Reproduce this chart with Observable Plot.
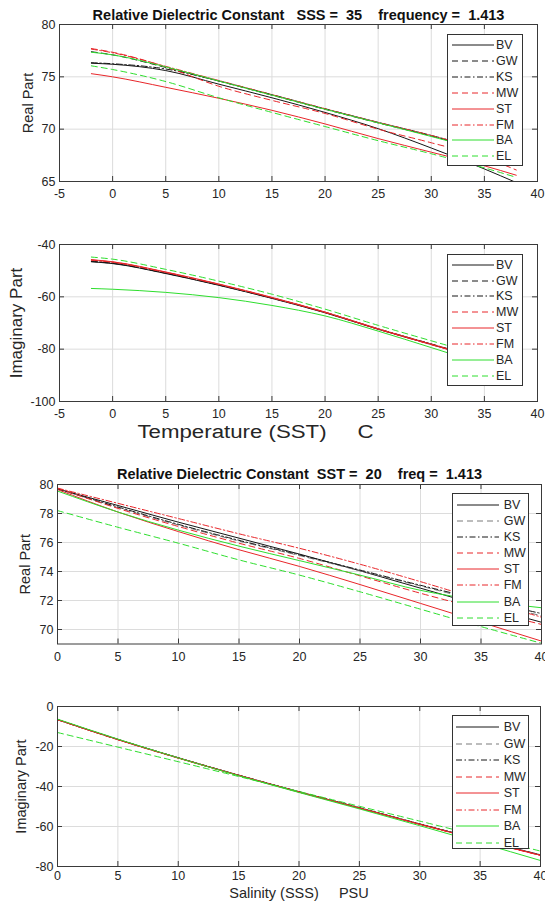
<!DOCTYPE html>
<html>
<head>
<meta charset="utf-8">
<script src="https://cdn.jsdelivr.net/npm/d3@7"></script>
<script src="https://cdn.jsdelivr.net/npm/@observablehq/plot@0.6"></script>
<style>
  body { margin: 0; background: #fff; }
  #fig { position: relative; width: 545px; height: 910px; background: #fff; overflow: hidden;
         font-family: "Liberation Sans", Arial, Helvetica, sans-serif; color: #262626; }
  #fig svg { position: absolute; left: 0; overflow: visible; }
  #fig svg text { white-space: pre; }
  .legend { position: absolute; background: #fff; border: 1px solid #333; box-sizing: border-box; }
  .legend svg { position: absolute; overflow: visible; }
  .legend span { position: absolute; font-size: 12.5px; line-height: 14px; color: #262626; white-space: pre; }
</style>
</head>
<body>
<div id="fig"></div>
<script>
// ---------------- DATA ----------------
const models = ["BV", "GW", "KS", "MW", "ST", "FM", "BA", "EL"];

// Panel 1 & 2: vs temperature (SSS = 35, frequency = 1.413)
const sst = [-2, 0, 5, 10, 15, 20, 25, 30, 35, 38];
const realT_BV = [76.3, 76.2, 75.6, 74.3, 73.0, 71.6, 70.05, 68.2, 66.2, 64.9];
const realT_GW = [77.4, 77.1, 75.9, 74.6, 73.25, 71.9, 70.6, 69.35, 67.9, 66.9];
const realT_KS = [76.35, 76.25, 75.75, 74.6, 73.3, 71.95, 70.65, 69.4, 68.0, 67.0];
const realT_MW = [77.7, 77.35, 75.95, 74.1, 72.75, 71.5, 70.0, 68.7, 67.3, 66.1];
const realT_ST = [75.3, 75.0, 74.0, 72.95, 71.8, 70.5, 69.1, 67.8, 66.5, 65.6];
const realT_FM = [77.65, 77.3, 76.0, 74.65, 73.3, 71.95, 70.65, 69.4, 68.0, 67.1];
const realT_BA = [77.35, 77.1, 75.95, 74.6, 73.25, 71.9, 70.6, 69.3, 67.9, 66.9];
const realT_EL = [76.05, 75.7, 74.55, 73.0, 71.6, 70.25, 68.9, 67.65, 66.3, 65.4];

const imagT_BV = [-46.6, -47.3, -51.1, -55.6, -60.6, -66.1, -72.4, -78.2, -84.0, -87.4];
const imagT_GW = [-46.5, -47.2, -51.0, -55.5, -60.5, -66.0, -72.3, -78.1, -83.9, -87.3];
const imagT_KS = [-46.4, -47.1, -50.9, -55.4, -60.4, -65.9, -72.2, -78.0, -83.8, -87.2];
const imagT_MW = [-45.9, -46.7, -50.6, -55.2, -60.3, -65.9, -72.3, -78.2, -84.0, -87.5];
const imagT_ST = [-45.8, -46.6, -50.5, -55.1, -60.2, -65.8, -72.2, -78.1, -83.9, -87.4];
const imagT_FM = [-46.0, -46.8, -50.7, -55.3, -60.4, -66.0, -72.4, -78.3, -84.1, -87.6];
const imagT_BA = [-56.8, -57.1, -58.3, -60.3, -63.3, -67.3, -73.1, -79.4, -85.8, -89.5];
const imagT_EL = [-44.8, -45.6, -49.5, -54.0, -59.0, -64.7, -70.9, -76.8, -82.6, -86.0];

// Panel 3 & 4: vs salinity (SST = 20, freq = 1.413)
const sss = [0, 5, 10, 15, 20, 25, 30, 35, 40];
const realS_BV = [79.7, 78.55, 77.4, 76.3, 75.2, 74.05, 72.85, 71.65, 70.5];
const realS_GW = [79.7, 78.4, 77.2, 76.1, 75.1, 74.05, 73.0, 71.95, 70.95];
const realS_KS = [79.7, 78.45, 77.25, 76.15, 75.15, 74.1, 73.05, 72.05, 71.1];
const realS_MW = [79.75, 78.35, 77.1, 75.95, 74.9, 73.7, 72.5, 71.4, 70.35];
const realS_ST = [79.65, 78.1, 76.75, 75.5, 74.35, 73.1, 71.8, 70.5, 69.2];
const realS_FM = [79.75, 78.7, 77.65, 76.6, 75.6, 74.5, 73.3, 72.05, 70.85];
const realS_BA = [79.55, 78.1, 76.85, 75.75, 74.75, 73.75, 72.7, 72.0, 71.5];
const realS_EL = [78.2, 77.05, 75.95, 74.8, 73.75, 72.6, 71.4, 70.2, 69.05];

const imagS_BV = [-6.6, -16.5, -25.7, -34.4, -42.7, -50.7, -58.8, -66.6, -74.2];
const imagS_GW = [-6.6, -16.5, -25.6, -34.3, -42.6, -50.6, -58.7, -66.5, -74.1];
const imagS_KS = [-6.5, -16.4, -25.6, -34.3, -42.6, -50.6, -58.7, -66.6, -74.3];
const imagS_MW = [-6.6, -16.6, -25.8, -34.5, -42.8, -50.8, -58.9, -66.8, -74.5];
const imagS_ST = [-6.5, -16.5, -25.7, -34.4, -42.7, -50.8, -58.9, -66.8, -74.4];
const imagS_FM = [-6.6, -16.6, -25.8, -34.5, -42.8, -50.8, -58.9, -66.7, -74.4];
const imagS_BA = [-6.3, -16.3, -25.7, -34.6, -43.0, -51.2, -59.6, -68.2, -77.0];
const imagS_EL = [-13.0, -20.3, -27.6, -35.0, -42.5, -49.9, -57.3, -64.8, -72.3];

// Tick values
const ticksT = [-5, 0, 5, 10, 15, 20, 25, 30, 35, 40];
const ticksS = [0, 5, 10, 15, 20, 25, 30, 35, 40];
const ticksReal1 = [65, 70, 75, 80];
const ticksImag1 = [-100, -80, -60, -40];
const ticksReal2 = [70, 72, 74, 76, 78, 80];
const ticksImag2 = [-80, -60, -40, -20, 0];

// Text
const title1 = "Relative Dielectric Constant   SSS =  35    frequency =  1.413";
const title2 = "Relative Dielectric Constant  SST =  20    freq =  1.413";

// ---------------- STYLES ----------------
const BLACK = "#161616", RED = "#e8262a", GREEN = "#2ede2e", GRAY = "#7a7a7a";
const DASH = "6,4", DOTDASH = "6,2.5,1.5,2.5";
const dashes = [null, DASH, DOTDASH, DASH, null, DOTDASH, null, DASH];
const colorsTop = [BLACK, BLACK, BLACK, RED, RED, RED, GREEN, GREEN];
const colorsBottom = [BLACK, GRAY, BLACK, RED, RED, RED, GREEN, GREEN];
const FONT = '"Liberation Sans", Arial, Helvetica, sans-serif';
const fig = document.getElementById("fig");

function panel(cfg) {
  const W = 545;
  const pw = W - cfg.ml - cfg.mr, ph = cfg.height - cfg.mt - cfg.mb;
  const rows = models.flatMap((m, i) => cfg.xs.map((x, j) => ({model: m, x, y: cfg.series[i][j]})));
  const fmt = d => String(d);
  const axisColor = "#3a3a3a";
  const marks = [
    Plot.gridX(cfg.xTicks, {stroke: "#dcdcdc", strokeOpacity: 1}),
    Plot.gridY(cfg.yTicks, {stroke: "#dcdcdc", strokeOpacity: 1}),
    ...models.map((m, i) => Plot.line(rows.filter(r => r.model === m), {
      x: "x", y: "y", stroke: cfg.colors[i], strokeWidth: 1,
      strokeDasharray: dashes[i] || undefined, curve: "monotone-x", clip: true
    })),
    Plot.frame({stroke: axisColor, strokeWidth: 1}),
    Plot.tickX(cfg.xTicks, {x: d => d, insetTop: ph - 5, stroke: axisColor}),
    Plot.tickX(cfg.xTicks, {x: d => d, insetBottom: ph - 5, stroke: axisColor}),
    Plot.tickY(cfg.yTicks, {y: d => d, insetRight: pw - 5, stroke: axisColor}),
    Plot.tickY(cfg.yTicks, {y: d => d, insetLeft: pw - 5, stroke: axisColor}),
    Plot.axisX(cfg.xTicks, {tickSize: 0, tickPadding: cfg.xPad ?? 8, tickFormat: fmt, label: null, fontSize: 12.5, fill: "#262626"}),
    Plot.axisY(cfg.yTicks, {tickSize: 0, tickPadding: 4, tickFormat: fmt, label: null, fontSize: 12.5, fill: "#262626"}),
    Plot.text([cfg.ylabel], {frameAnchor: "left", dx: cfg.ylabelDx, rotate: -90, text: d => d,
      fontSize: cfg.ylabelSize, textAnchor: "middle", lineAnchor: "middle", fill: "#262626"})
  ];
  if (cfg.title) marks.push(Plot.text([cfg.title], {frameAnchor: "top", dy: cfg.titleDy, text: d => d,
      fontSize: 14.5, fontWeight: "bold", lineAnchor: "middle", fill: "#111"}));
  if (cfg.xlabel) marks.push(Plot.text([cfg.xlabel], {frameAnchor: cfg.xlabelAnchor, dx: cfg.xlabelDx || 0, dy: cfg.xlabelDy,
      text: d => d, fontSize: cfg.xlabelSize, lineAnchor: "middle", textAnchor: cfg.xlabelTextAnchor || "middle", fill: "#262626"}));
  const svg = Plot.plot({
    width: W, height: cfg.height,
    marginLeft: cfg.ml, marginRight: cfg.mr, marginTop: cfg.mt, marginBottom: cfg.mb,
    x: {domain: cfg.xDomain}, y: {domain: cfg.yDomain},
    style: {fontFamily: FONT, fontSize: "12.5px", color: "#262626", background: "transparent"},
    marks
  });
  if (cfg.xlabelLength) {
    d3.select(svg).selectAll("text").filter(function () { return this.textContent === cfg.xlabel; })
      .attr("textLength", cfg.xlabelLength).attr("lengthAdjust", "spacingAndGlyphs");
  }
  svg.style.top = cfg.top + "px";
  fig.appendChild(svg);
}

function legend(box) {
  const div = document.createElement("div");
  div.className = "legend";
  Object.assign(div.style, {left: box.left + "px", top: box.top + "px", width: box.width + "px", height: box.height + "px"});
  models.forEach((m, i) => {
    const cy = box.first + i * box.step;
    const ns = "http://www.w3.org/2000/svg";
    const s = document.createElementNS(ns, "svg");
    s.setAttribute("width", box.lineLen); s.setAttribute("height", 4);
    s.style.left = box.lineLeft + "px"; s.style.top = (cy - 2) + "px";
    const l = document.createElementNS(ns, "line");
    l.setAttribute("x1", 0); l.setAttribute("x2", box.lineLen); l.setAttribute("y1", 2); l.setAttribute("y2", 2);
    l.setAttribute("stroke", box.colors[i]); l.setAttribute("stroke-width", 1);
    if (dashes[i]) l.setAttribute("stroke-dasharray", dashes[i]);
    s.appendChild(l); div.appendChild(s);
    const t = document.createElement("span");
    t.textContent = m; t.style.left = box.textLeft + "px"; t.style.top = (cy - 7) + "px";
    div.appendChild(t);
  });
  fig.appendChild(div);
}

// ---------------- PANELS ----------------
panel({top: 0, height: 215, ml: 59, mr: 8, mt: 24, mb: 34,
  xDomain: [-5, 40], yDomain: [65, 80], xTicks: ticksT, yTicks: ticksReal1, xs: sst,
  series: [realT_BV, realT_GW, realT_KS, realT_MW, realT_ST, realT_FM, realT_BA, realT_EL],
  colors: colorsTop, title: title1, titleDy: -9,
  ylabel: "Real Part", ylabelSize: 14.5, ylabelDx: -31});

panel({top: 215, height: 230, ml: 59, mr: 8, mt: 29, mb: 44,
  xDomain: [-5, 40], yDomain: [-100, -40], xTicks: ticksT, yTicks: ticksImag1, xs: sst,
  series: [imagT_BV, imagT_GW, imagT_KS, imagT_MW, imagT_ST, imagT_FM, imagT_BA, imagT_EL],
  colors: colorsTop,
  ylabel: "Imaginary Part", ylabelSize: 17, ylabelDx: -43,
  xlabel: "Temperature (SST)     C", xlabelSize: 18, xlabelAnchor: "bottom-left", xlabelDx: 78,
  xlabelTextAnchor: "start", xlabelDy: 31, xlabelLength: 236});

panel({top: 445, height: 225, ml: 57, mr: 4, mt: 39, mb: 26.5,
  xDomain: [0, 40], yDomain: [69, 80], xTicks: ticksS, yTicks: ticksReal2, xs: sss,
  series: [realS_BV, realS_GW, realS_KS, realS_MW, realS_ST, realS_FM, realS_BA, realS_EL],
  colors: colorsBottom, title: title2, titleDy: -10.5,
  ylabel: "Real Part", ylabelSize: 14.5, ylabelDx: -32});

panel({top: 670, height: 240, ml: 57, mr: 5, mt: 36, mb: 44,
  xDomain: [0, 40], yDomain: [-80, 0], xTicks: ticksS, yTicks: ticksImag2, xs: sss,
  series: [imagS_BV, imagS_GW, imagS_KS, imagS_MW, imagS_ST, imagS_FM, imagS_BA, imagS_EL],
  colors: colorsBottom, xPad: 5,
  ylabel: "Imaginary Part", ylabelSize: 14.5, ylabelDx: -36.5,
  xlabel: "Salinity (SSS)     PSU", xlabelSize: 14.5, xlabelAnchor: "bottom", xlabelDy: 27});

// ---------------- LEGENDS ----------------
legend({left: 447, top: 34, width: 76, height: 132, first: 10, step: 15.9, lineLeft: 4, lineLen: 42, textLeft: 48, colors: colorsTop});
legend({left: 447, top: 253.7, width: 76, height: 132, first: 10, step: 15.9, lineLeft: 4, lineLen: 42, textLeft: 48, colors: colorsTop});
legend({left: 451.7, top: 492.7, width: 77, height: 133.3, first: 11.3, step: 16.1, lineLeft: 4, lineLen: 42, textLeft: 51, colors: colorsBottom});
legend({left: 451.7, top: 715, width: 77.5, height: 134.3, first: 11, step: 16.5, lineLeft: 3.5, lineLen: 43, textLeft: 51, colors: colorsBottom});
</script>
</body>
</html>
